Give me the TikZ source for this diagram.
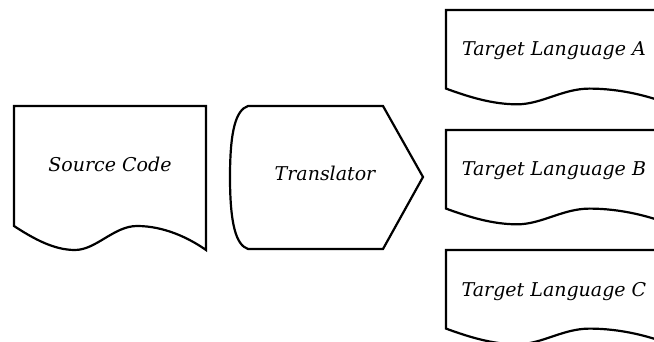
\documentclass[tikz,border=0pt]{standalone}
\usepackage{fontspec}
\setmainfont{DejaVu Serif}
\begin{document}
\begin{tikzpicture}[x=1pt, y=-1pt,
  shapeline/.style={draw=black, line width=2.2pt, line join=miter, fill=white},
  label/.style={font=\fontsize{19}{22}\selectfont\itshape, inner sep=0pt, anchor=base},
  docshape/.pic={
    \path[shapeline] (0,0) -- (192,0) -- (192,144)
      .. controls (175,132) and (150,120) .. (123,120)
      .. controls (100,120) and (82,144) .. (61,144)
      .. controls (40,144) and (20,133) .. (0,120) -- cycle;
  }]
  \useasboundingbox (0,0) rectangle (654,342);
  \clip (0,0) rectangle (654,342);

  % source document
  \pic at (14,106) {docshape};
  \node[label] (src) at (110,172) {Source Code};

  % translator (curved left side, pointed right side)
  \path[shapeline] (248,106) -- (383,106) -- (423,177) -- (383,249) -- (248,249)
    .. controls (236,245) and (230,224) .. (230,177)
    .. controls (230,130) and (236,110) .. (248,106) -- cycle;
  \node[label] (tr) at (325,181) {Translator};

  % target documents, wider and flatter than the source
  \pic[xscale=1.167, yscale=0.655] at (446,10) {docshape};
  \pic[xscale=1.167, yscale=0.655] at (446,130) {docshape};
  \pic[xscale=1.167, yscale=0.655] at (446,250) {docshape};
  \node[label] (ta) at (554,56) {Target Language A};
  \node[label] (tb) at (554,176) {Target Language B};
  \node[label] (tc) at (554,296) {Target Language C};
\end{tikzpicture}
\end{document}
